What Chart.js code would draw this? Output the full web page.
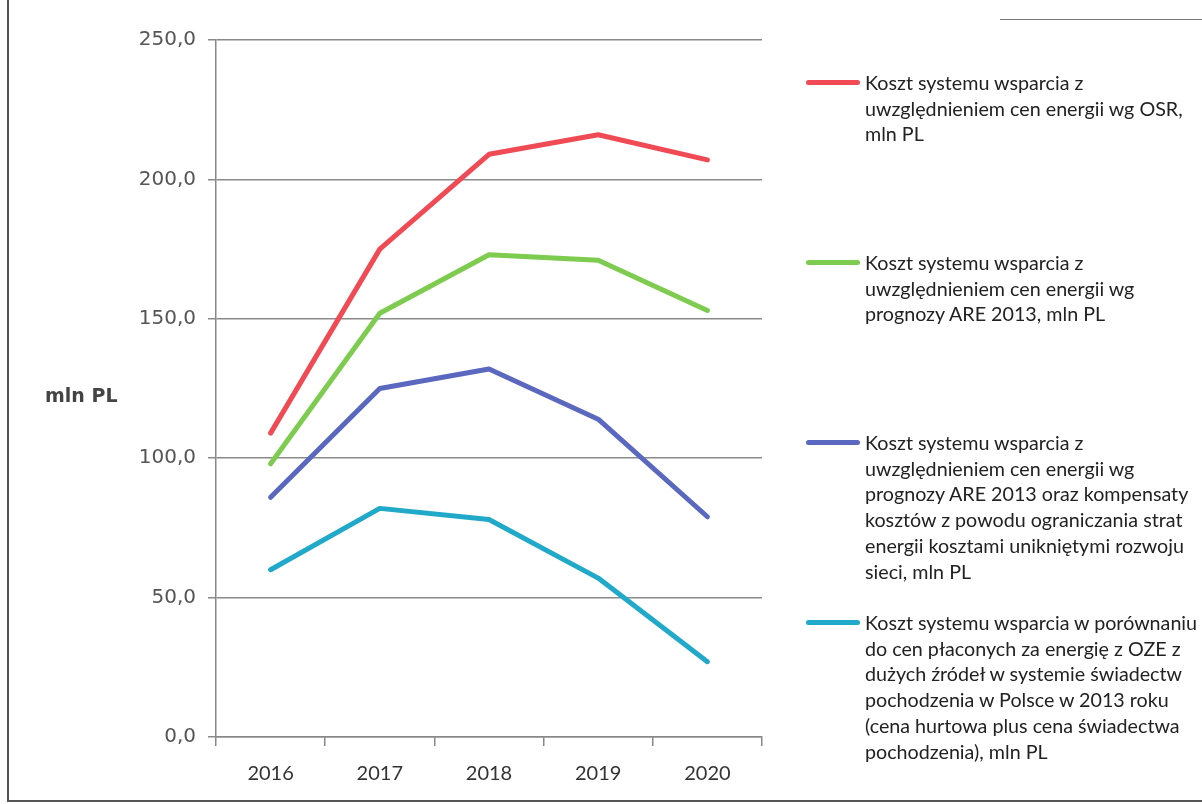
<!DOCTYPE html>
<html>

<head>
    <title>Koszt systemu wsparcia</title>
    <script src="https://cdn.jsdelivr.net/npm/chart.js"></script>
    <style>
        body {
            margin: 0;
            background: #fff;
        }

        #wrap {
            position: relative;
            width: 1202px;
            height: 804px;
            overflow: hidden;
        }

        #frame {
            position: absolute;
            left: 7px;
            top: 0;
            width: 1300px;
            height: 800px;
            border-left: 2px solid #555;
            border-bottom: 2px solid #555;
        }

        #topline {
            position: absolute;
            left: 1000px;
            top: 19px;
            width: 202px;
            border-top: 1px solid #777;
        }

        #ytitle {
            position: absolute;
            left: 45px;
            top: 384px;
            font-family: "DejaVu Sans", sans-serif;
            font-weight: bold;
            font-size: 19px;
            color: #444;
        }

        .legend-item {
            position: absolute;
            left: 806px;
            width: 396px;
            font-family: Lato, sans-serif;
            font-size: 19.7px;
            line-height: 25.7px;
            color: #222;
        }

        .legend-item .sw {
            position: absolute;
            left: 0;
            top: 10px;
            width: 54px;
            height: 5px;
            border-radius: 3px;
        }

        .legend-item .txt {
            margin-left: 59px;
        }

        canvas {
            position: absolute;
            left: 0;
            top: 0;
        }
    </style>
</head>

<body>
    <div id="wrap">
        <div id="frame"></div>
        <div id="topline"></div>
        <canvas id="chart" width="1202" height="804"></canvas>
        <div id="ytitle">mln PL</div>
        <div id="legend"></div>
    </div>

    <script>
        const years = ['2016', '2017', '2018', '2019', '2020'];

        const kosztOSR = [109, 175, 209, 216, 207];
        const kosztARE = [98, 152, 173, 171, 153];
        const kosztAREkomp = [86, 125, 132, 114, 79];
        const kosztOZE = [60, 82, 78, 57, 27];

        const seriesLabels = [
            'Koszt systemu wsparcia z<br>uwzględnieniem cen energii wg OSR,<br>mln PL',
            'Koszt systemu wsparcia z<br>uwzględnieniem cen energii wg<br>prognozy ARE 2013, mln PL',
            'Koszt systemu wsparcia z<br>uwzględnieniem cen energii wg<br>prognozy ARE 2013 oraz kompensaty<br>kosztów z powodu ograniczania strat<br>energii kosztami unikniętymi rozwoju<br>sieci, mln PL',
            'Koszt systemu wsparcia w porównaniu<br>do cen płaconych za energię z OZE z<br>dużych źródeł w systemie świadectw<br>pochodzenia w Polsce w 2013 roku<br>(cena hurtowa plus cena świadectwa<br>pochodzenia), mln PL'
        ];
        const seriesColors = ['#f04a55', '#7dcb4f', '#5a68bf', '#21a9ca'];
        const legendTops = [70, 250, 430, 610];

        const seriesData = [kosztOSR, kosztARE, kosztAREkomp, kosztOZE];

        const ctx = document.getElementById('chart').getContext('2d');

        new Chart(ctx, {
            type: 'line',
            data: {
                labels: years,
                datasets: seriesData.map((d, i) => ({
                    label: seriesLabels[i].replace(/<br>/g, ' '),
                    data: d,
                    borderColor: seriesColors[i],
                    backgroundColor: seriesColors[i],
                    borderWidth: 5,
                    pointRadius: 0,
                    tension: 0,
                    borderCapStyle: 'round',
                    borderJoinStyle: 'round'
                }))
            },
            options: {
                responsive: false,
                animation: false,
                layout: {
                    padding: { top: 40, right: 440, left: 0, bottom: 0 }
                },
                plugins: {
                    legend: { display: false },
                    tooltip: { enabled: false }
                },
                scales: {
                    x: {
                        offset: true,
                        grid: {
                            offset: true,
                            drawOnChartArea: false,
                            color: '#888',
                            tickLength: 9,
                            lineWidth: 1.5
                        },
                        border: { color: '#888', width: 1.5 },
                        ticks: {
                            color: '#333',
                            padding: 16,
                            font: { family: 'Lato', size: 20 }
                        },
                        afterFit: (scale) => { scale.height = 67; }
                    },
                    y: {
                        min: 0,
                        max: 250,
                        ticks: {
                            stepSize: 50,
                            color: '#555',
                            padding: 12,
                            font: { family: 'DejaVu Sans', size: 20 },
                            callback: (v) => v.toFixed(1).replace('.', ',')
                        },
                        grid: {
                            color: '#8a8a8a',
                            lineWidth: 1.5,
                            tickLength: 8
                        },
                        border: { color: '#888', width: 1.5 },
                        afterFit: (scale) => { scale.width = 216; }
                    }
                }
            }
        });

        // legenda jako HTML, bo tekst jest wielowierszowy
        const legend = document.getElementById('legend');
        seriesLabels.forEach((txt, i) => {
            const item = document.createElement('div');
            item.className = 'legend-item';
            item.style.top = legendTops[i] + 'px';
            item.innerHTML = '<div class="sw" style="background:' + seriesColors[i] + '"></div><div class="txt">' + txt + '</div>';
            legend.appendChild(item);
        });
    </script>

</body>

</html>
